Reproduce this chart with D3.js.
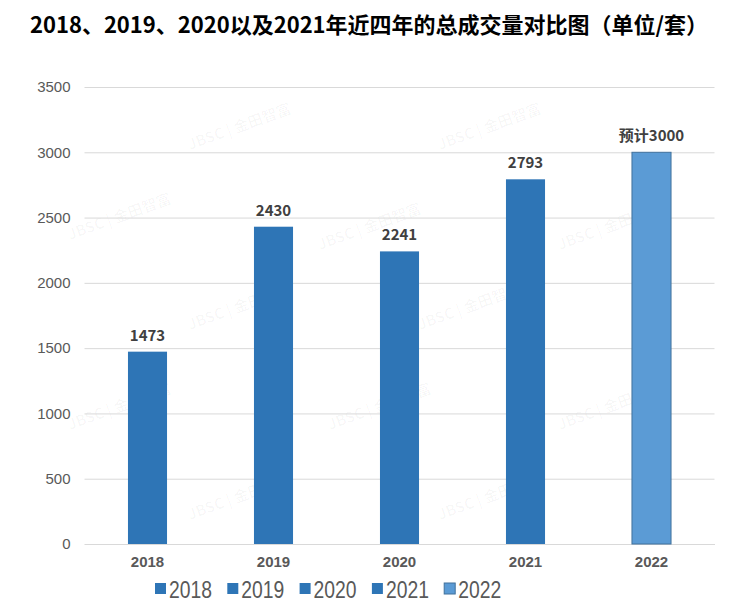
<!DOCTYPE html>
<html><head><meta charset="utf-8">
<script src="https://cdn.jsdelivr.net/npm/d3@7"></script>
<style>body{margin:0;background:#fff}svg{display:block}</style>
</head><body>
<svg id="c" width="738" height="614"></svg>
<script>
const categories = ["2018","2019","2020","2021","2022"];
const values = [1473, 2430, 2241, 2793, 3000];
const labels = ["1473","2430","2241","2793","预计3000"];
const yTicks = [0,500,1000,1500,2000,2500,3000,3500];
const colors = ["#2E75B6","#2E75B6","#2E75B6","#2E75B6","#5B9BD5"];
const strokes = ["none","none","none","none","#41719C"];
const title = "2018、2019、2020以及2021年近四年的总成交量对比图（单位/套）";

const svg = d3.select("#c");
const font = "'Noto Sans CJK SC','Noto Sans',sans-serif";
const W=738,H=614;
const x = d3.scaleBand().domain(categories).range([84.5,714.5]).paddingInner(0.69).paddingOuter(0.345);
const y = d3.scaleLinear().domain([0,3500]).range([544,87]);

// watermark
const wm = [[190,150],[440,150],[70,240],[320,250],[560,250],[190,330],[420,330],[70,430],[330,430],[560,430],[190,520],[440,520]];
svg.append("g").selectAll("text").data(wm).join("text")
  .attr("transform",d=>`translate(${d[0]},${d[1]}) rotate(-20)`)
  .attr("font-family",font).attr("font-size",15).attr("font-weight","bold")
  .attr("fill","#000").attr("fill-opacity",0.03).text("JBSC | 金田智富");

svg.append("text").attr("x",W/2).attr("y",33).attr("text-anchor","middle")
  .attr("font-family",font).attr("font-weight","bold").attr("font-size",22).attr("fill","#000")
  .attr("textLength",678).attr("lengthAdjust","spacingAndGlyphs")
  .text(title);

const yAxis = svg.append("g").attr("transform","translate(84.5,0)")
  .call(d3.axisLeft(y).tickValues(yTicks).tickSize(-630).tickPadding(14).tickFormat(d3.format("d")));
yAxis.select(".domain").remove();
yAxis.selectAll(".tick line").attr("stroke","#d9d9d9").attr("stroke-width",1);
yAxis.selectAll(".tick text").attr("font-family","'Liberation Sans',Arial,sans-serif").attr("font-size",15).attr("fill","#595959");

const xAxis = svg.append("g").attr("transform","translate(0,544)")
  .call(d3.axisBottom(x).tickSize(0).tickPadding(12));
xAxis.select(".domain").attr("stroke","#d9d9d9");
xAxis.selectAll(".tick text").attr("font-family","'Liberation Sans',Arial,sans-serif").attr("font-weight","bold").attr("font-size",15).attr("fill","#595959");

svg.append("g").selectAll("rect").data(values).join("rect")
  .attr("x",(d,i)=>x(categories[i])).attr("width",x.bandwidth())
  .attr("y",d=>y(d)).attr("height",d=>y(0)-y(d))
  .attr("fill",(d,i)=>colors[i]).attr("stroke",(d,i)=>strokes[i]).attr("stroke-width",1);

svg.append("g").selectAll("text").data(values).join("text")
  .attr("x",(d,i)=>x(categories[i])+x.bandwidth()/2).attr("y",d=>y(d)-11)
  .attr("text-anchor","middle").attr("font-family",font).attr("font-weight","bold")
  .attr("font-size",15).attr("fill","#404040").text((d,i)=>labels[i]);

const lg = svg.append("g").attr("transform","translate(155,0)");
categories.forEach((c,i)=>{
  const g = lg.append("g").attr("transform",`translate(${i*72.3},0)`);
  g.append("rect").attr("x",0).attr("y",583).attr("width",11).attr("height",11)
    .attr("fill",colors[i]).attr("stroke",strokes[i]);
  g.append("text").attr("x",14).attr("y",597.5).attr("font-family","'Liberation Sans',Arial,sans-serif")
    .attr("font-size",23).attr("fill","#595959").attr("textLength",43).attr("lengthAdjust","spacingAndGlyphs").text(c);
});
</script>
</body></html>
